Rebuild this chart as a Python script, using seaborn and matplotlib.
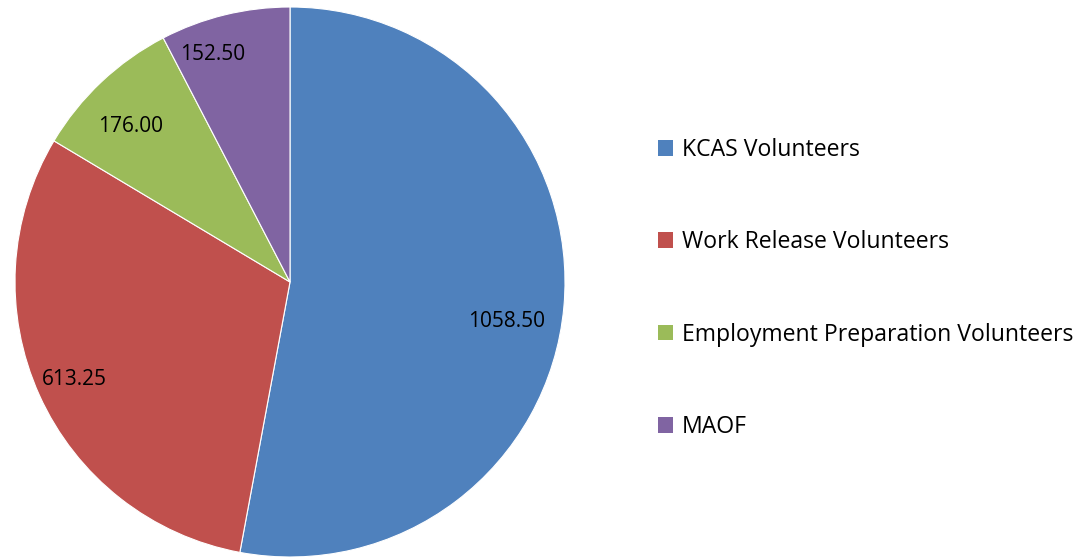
import matplotlib
matplotlib.use("Agg")
import numpy as np
import matplotlib.pyplot as plt
import matplotlib.patches as mpatches
import seaborn as sns

categories = ["KCAS Volunteers", "Work Release Volunteers",
              "Employment Preparation Volunteers", "MAOF"]
hours = [1058.50, 613.25, 176.00, 152.50]
colors = ["#4F81BD", "#C0504D", "#9BBB59", "#8064A2"]

sns.set_theme(style="white")
plt.rcParams["font.family"] = ["Open Sans", "DejaVu Sans"]
plt.rcParams["text.color"] = "black"

fig = plt.figure(figsize=(10.82, 5.6), dpi=100)
ax = fig.add_axes([15 / 1082, 3 / 560, 550 / 1082, 550 / 560])

total = sum(hours)
wedges, texts, autotexts = ax.pie(
    hours,
    colors=colors,
    startangle=90,
    counterclock=False,
    autopct=lambda p: f"{p * total / 100:.2f}",
    pctdistance=0.83,
    wedgeprops=dict(edgecolor="white", linewidth=0.8),
    textprops=dict(fontsize=15, color="black"),
)

# nudge labels to roughly where the original "best fit" put them
label_r = [0.80, 0.86, 0.81, 0.875]
label_shift = [-5, 0, 2.5, 5]
for w, t, r, s in zip(wedges, autotexts, label_r, label_shift):
    ang = np.deg2rad((w.theta1 + w.theta2) / 2 + s)
    t.set_position((r * np.cos(ang), r * np.sin(ang)))

ax.set_xlim(-1, 1)
ax.set_ylim(-1, 1)
ax.set_aspect("equal")

handles = [mpatches.Patch(facecolor=c, edgecolor="none") for c in colors]
fig.legend(
    handles, categories,
    loc="center left",
    bbox_to_anchor=(0.5887, 0.485),
    frameon=False,
    fontsize=16.6,
    handlelength=0.68,
    handleheight=0.68,
    handletextpad=0.38,
    labelspacing=2.96,
    labelcolor="black",
)

fig.savefig("out.png", dpi=100)
